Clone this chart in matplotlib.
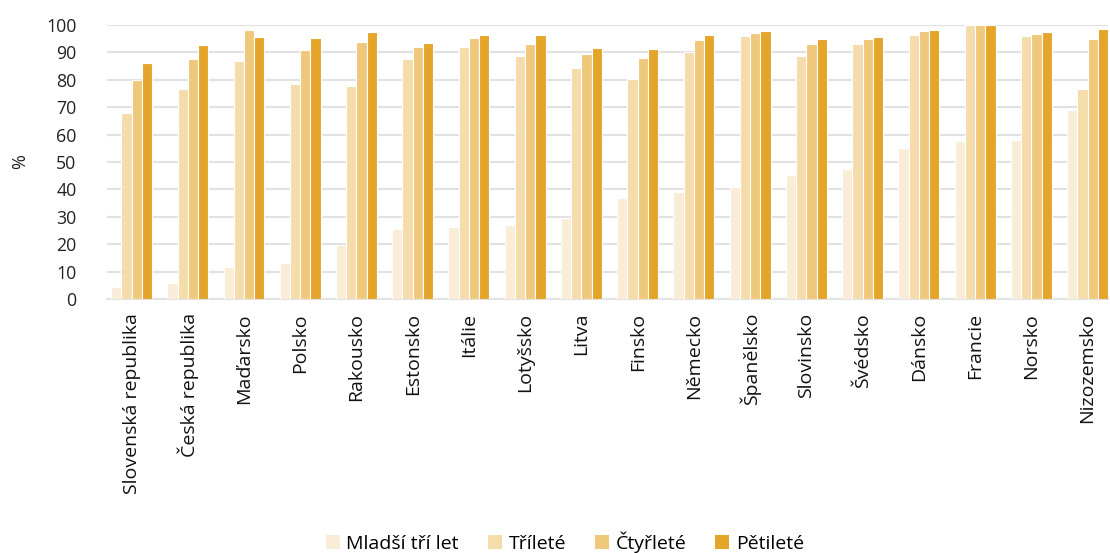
import matplotlib
matplotlib.use("Agg")
import matplotlib.pyplot as plt
import numpy as np
from matplotlib.patches import Patch

plt.rcParams['font.family'] = ['Open Sans', 'DejaVu Sans']

categories = ["Slovenská republika", "Česká republika", "Maďarsko", "Polsko", "Rakousko",
              "Estonsko", "Itálie", "Lotyšsko", "Litva", "Finsko", "Německo", "Španělsko",
              "Slovinsko", "Švédsko", "Dánsko", "Francie", "Norsko", "Nizozemsko"]
series_names = ["Mladší tří let", "Tříleté", "Čtyřleté", "Pětileté"]
mladsi = [4.3, 5.7, 11.5, 13.0, 19.8, 25.6, 26.2, 27.1, 29.6, 36.7, 38.9, 40.8, 45.4, 47.4, 55.2, 57.8, 58.1, 69.1]
trilete = [68.0, 76.7, 86.9, 78.3, 77.8, 87.6, 92.0, 88.8, 84.3, 80.3, 90.2, 96.0, 88.8, 93.2, 96.4, 100.0, 96.1, 76.7]
ctyrlete = [80.0, 87.6, 98.1, 91.0, 93.7, 92.1, 95.3, 93.0, 89.4, 88.0, 94.5, 97.2, 93.0, 94.9, 97.8, 100.0, 96.8, 94.9]
petilete = [86.1, 92.6, 95.6, 95.4, 97.6, 93.4, 96.2, 96.4, 91.6, 91.3, 96.5, 97.8, 94.9, 95.6, 98.2, 100.0, 97.3, 98.7]
yticks = [0, 10, 20, 30, 40, 50, 60, 70, 80, 90, 100]

colors = ["#FAEDD8", "#F5DCAB", "#F0C87B", "#E5A52A"]
data = [mladsi, trilete, ctyrlete, petilete]

fig = plt.figure(figsize=(11.10, 5.53), dpi=100)
ax = fig.add_axes([107/1110, 1 - 299/553, (1108-107)/1110, (299-25)/553])

x = np.arange(len(categories))
w = 0.182
for i, (vals, c) in enumerate(zip(data, colors)):
    ax.bar(x + (i - 1.5) * w, vals, width=w, color=c, edgecolor="white", linewidth=0.8, zorder=3)

fs = 14
ax.set_xlim(-0.436, 17.364)
ax.set_ylim(0, 100)
ax.set_yticks(yticks)
ax.set_yticklabels([str(t) for t in yticks], fontsize=12.8, color="#222222")
ax.set_xticks(x)
ax.set_xticklabels(categories, rotation=90, fontsize=fs, color="#111111")
ax.tick_params(axis="x", length=0, pad=10)
ax.tick_params(axis="y", length=0, pad=22)
ax.grid(axis="y", color="#E2E2E2", linewidth=1.5, zorder=0)
for s in ["top", "right", "left"]:
    ax.spines[s].set_visible(False)
ax.spines["bottom"].set_color("#E2E2E2")
ax.spines["bottom"].set_linewidth(1.5)
ax.set_ylabel("%", fontsize=13, color="#222222", labelpad=12)

handles = [Patch(facecolor=c, edgecolor="none") for c in colors]
fig.legend(handles, series_names, loc="center", bbox_to_anchor=(565/1110, 1 - 542/553),
           ncol=4, frameon=False, fontsize=fs, handlelength=0.7, handleheight=0.7,
           handletextpad=0.35, columnspacing=1.5)

fig.savefig("out.png", dpi=100)
